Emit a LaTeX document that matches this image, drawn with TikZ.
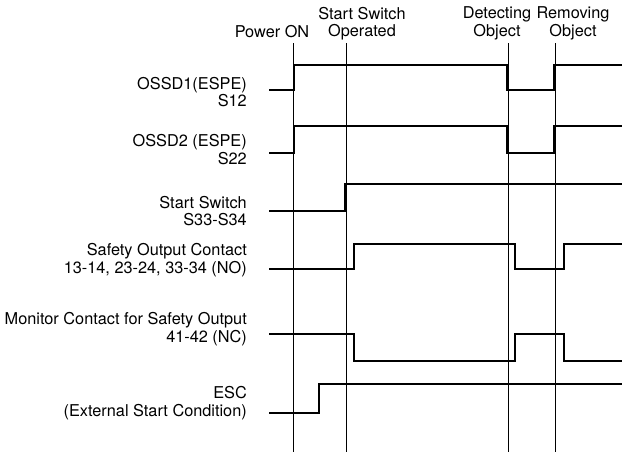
\documentclass[tikz,border=0pt]{standalone}
\usepackage{fontspec}
\setmainfont{TeX Gyre Heros}
\tikzset{
	sig/.style={line width=1.6pt},
	mark line/.style={line width=0.7pt},
	lbl/.style={anchor=east,align=right,inner sep=0pt,font=\fontsize{16.3}{17.8}\selectfont},
	toplbl/.style={align=center,inner sep=0pt,font=\fontsize{16.3}{17.5}\selectfont}
}
\begin{document}
\begin{tikzpicture}[x=1pt,y=-1pt]
		\useasboundingbox (0,0) rectangle (622,453);
		
		% event lines
		\draw[mark line] (293,43) -- (293,452);
		\draw[mark line] (346,43) -- (346,452);
		\draw[mark line] (508,43) -- (508,452);
		\draw[mark line] (555,43) -- (555,452);
		
		\node[toplbl] (pwr) at (272,32) {Power ON};
		\node[toplbl] (sso) at (362,23.5) {Start Switch\\Operated};
		\node[toplbl] (det) at (497,23.5) {Detecting\\Object};
		\node[toplbl] (rem) at (573,23.5) {Removing\\Object};
		
		% signals
		\node[lbl] (ossd1) at (247,92) {OSSD1(ESPE)\\S12};
		\draw[sig] (269,90) -- (294,90) -- (294,65) -- (507,65) -- (507,90) -- (554,90) -- (554,65) -- (622,65);
		
		\node[lbl] (ossd2) at (247,149.5) {OSSD2 (ESPE)\\S22};
		\draw[sig] (269,153) -- (294,153) -- (294,126) -- (507,126) -- (507,153) -- (554,153) -- (554,126) -- (622,126);
		
		\node[lbl] (start) at (247,211) {Start Switch\\S33-S34};
		\draw[sig] (269,211) -- (345,211) -- (345,184) -- (622,184);
		
		\node[lbl] (safe) at (247,260.5) {Safety Output Contact\\13-14, 23-24, 33-34 (NO)};
		\draw[sig] (269,269) -- (354,269) -- (354,244) -- (515,244) -- (515,269) -- (564,269) -- (564,244) -- (622,244);
		
		\node[lbl] (mon) at (247,329.5) {Monitor Contact for Safety Output\\41-42 (NC)};
		\draw[sig] (269,334) -- (354,334) -- (354,361) -- (515,361) -- (515,334) -- (564,334) -- (564,361) -- (622,361);
		
		\node[lbl] (esc) at (247,403) {ESC\\(External Start Condition)};
		\draw[sig] (269,413) -- (319,413) -- (319,384) -- (622,384);
	\end{tikzpicture}
\end{document}
